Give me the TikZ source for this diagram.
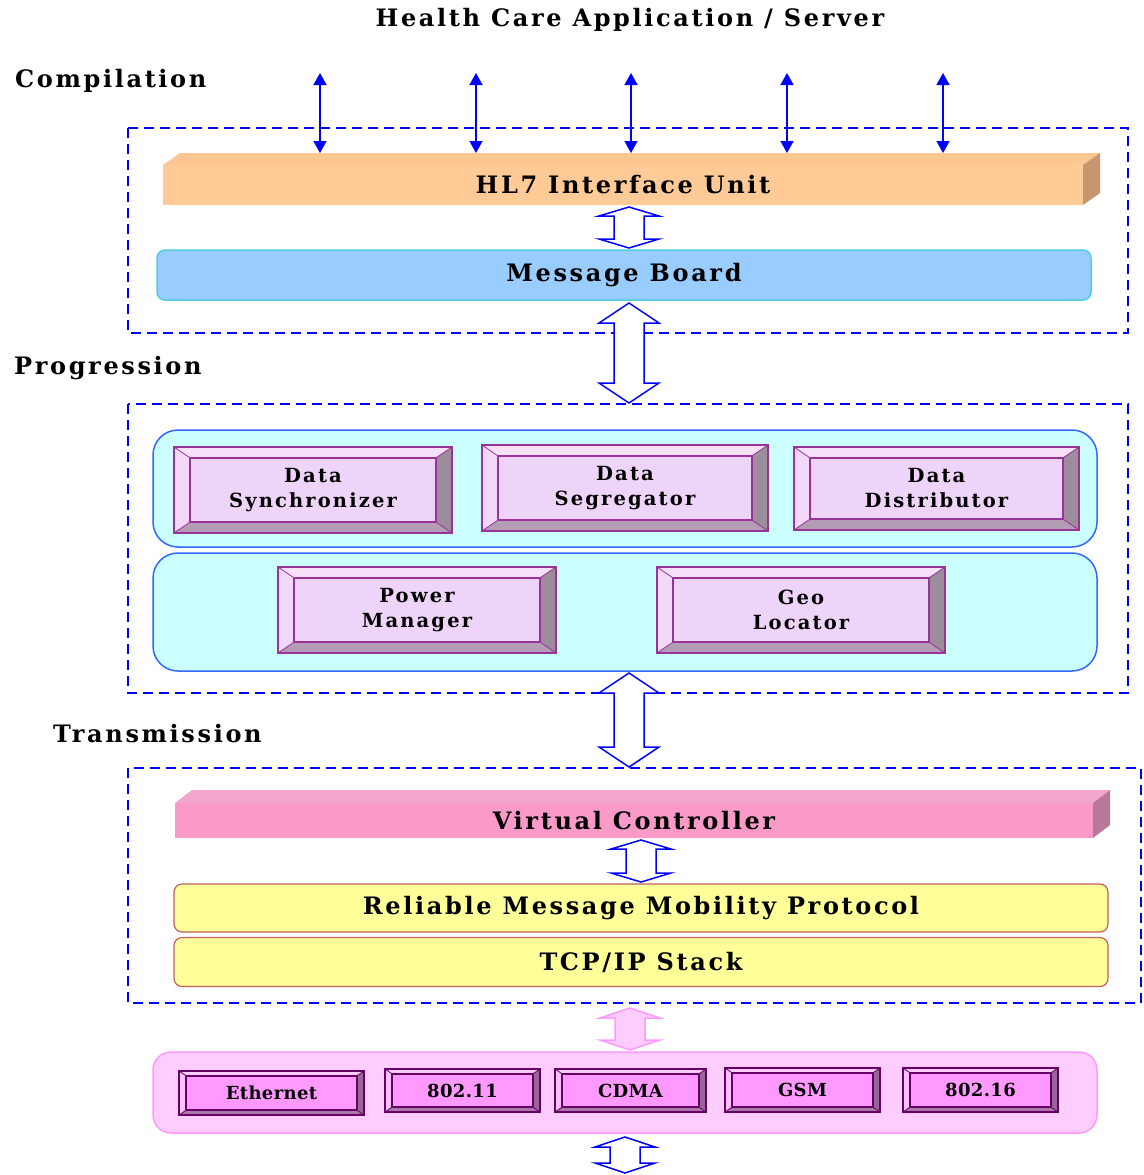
\documentclass[tikz,border=0pt]{standalone}
\usepackage{fontspec}
\setmainfont{DejaVu Serif}
\newfontfamily\lblfont[LetterSpace=11]{DejaVu Serif}
\newfontfamily\smfont[LetterSpace=2]{DejaVu Serif}
\usetikzlibrary{arrows.meta}
\definecolor{dashblue}{HTML}{0000FF}
\definecolor{hlfront}{HTML}{FFCA96}
\definecolor{hltop}{HTML}{FAC692}
\definecolor{hlside}{HTML}{C8966E}
\definecolor{mbfill}{HTML}{99CCFF}
\definecolor{mbline}{HTML}{55CCDD}
\definecolor{panelfill}{HTML}{CCFFFF}
\definecolor{panelline}{HTML}{3366FF}
\definecolor{bvface}{HTML}{EED4F8}
\definecolor{bvtop}{HTML}{F6E0FA}
\definecolor{bvleft}{HTML}{F2D8F6}
\definecolor{bvright}{HTML}{9C8C9C}
\definecolor{bvbottom}{HTML}{B49CB4}
\definecolor{bvline}{HTML}{993399}
\definecolor{vcfront}{HTML}{F99AC8}
\definecolor{vctop}{HTML}{F2A6CE}
\definecolor{vcside}{HTML}{B87898}
\definecolor{yfill}{HTML}{FFFF99}
\definecolor{yline}{HTML}{C06060}
\definecolor{pkfill}{HTML}{FFCCFF}
\definecolor{pkline}{HTML}{FF99FF}
\definecolor{smface}{HTML}{FF99FF}
\definecolor{smtop}{HTML}{FFCCFF}
\definecolor{smleft}{HTML}{FFC0FF}
\definecolor{smright}{HTML}{996699}
\definecolor{smbottom}{HTML}{AA77AA}
\definecolor{smline}{HTML}{660066}
% bevelled box: name, x1, y1, x2, y2, d, colour prefix, font, text
\newcommand\bevelbox[9]{%
  \fill[#7top] (#2,#3) -- (#4,#3) -- ({#4-#6},{#3+0.68*#6}) -- ({#2+#6},{#3+0.68*#6}) -- cycle;
  \fill[#7left] (#2,#3) -- ({#2+#6},{#3+0.68*#6}) -- ({#2+#6},{#5-0.68*#6}) -- (#2,#5) -- cycle;
  \fill[#7right] (#4,#3) -- (#4,#5) -- ({#4-#6},{#5-0.68*#6}) -- ({#4-#6},{#3+0.68*#6}) -- cycle;
  \fill[#7bottom] (#2,#5) -- (#4,#5) -- ({#4-#6},{#5-0.68*#6}) -- ({#2+#6},{#5-0.68*#6}) -- cycle;
  \fill[#7face] ({#2+#6},{#3+0.68*#6}) rectangle ({#4-#6},{#5-0.68*#6});
  \draw[#7line, line width=0.8pt] (#2,#3) -- ({#2+#6},{#3+0.68*#6}) (#4,#3) -- ({#4-#6},{#3+0.68*#6})
     (#2,#5) -- ({#2+#6},{#5-0.68*#6}) (#4,#5) -- ({#4-#6},{#5-0.68*#6});
  \draw[#7line, line width=1.8pt] ({#2+#6},{#3+0.68*#6}) rectangle ({#4-#6},{#5-0.68*#6});
  \node[draw=#7line, line width=1.8pt, inner sep=0pt, minimum width={(#4-#2)*1pt}, minimum height={(#5-#3)*1pt},
        align=center, font=#8] (#1) at ({(#2+#4)/2},{(#3+#5)/2}) {#9};
}
% 3-D bar: name, x1, y1, x2, y2, dx, dy, colour prefix, text
\newcommand\barthree[9]{%
  \fill[#8top] (#2,#3) -- ({#2+#6},{#3-#7}) -- ({#4+#6},{#3-#7}) -- (#4,#3) -- cycle;
  \fill[#8side] (#4,#3) -- ({#4+#6},{#3-#7}) -- ({#4+#6},{#5-#7}) -- (#4,#5) -- cycle;
  \node[fill=#8front, inner sep=0pt, minimum width={(#4-#2)*1pt}, minimum height={(#5-#3)*1pt},
        font=\lblfont\bfseries\fontsize{24}{26}\selectfont] (#1) at ({(#2+#4)/2},{(#3+#5)/2}) {#9};
}
% hollow double arrow: x, y top, y bottom, head length, draw colour, fill colour
\newcommand\hdarrow[6]{%
  \filldraw[draw=#5, fill=#6, line width=1.5pt, line join=miter]
    (#1,#2) -- ({#1+30},{#2+#4}) -- ({#1+15},{#2+#4}) -- ({#1+15},{#3-#4}) -- ({#1+30},{#3-#4})
    -- (#1,#3) -- ({#1-30},{#3-#4}) -- ({#1-15},{#3-#4}) -- ({#1-15},{#2+#4}) -- ({#1-30},{#2+#4}) -- cycle;
}
\begin{document}
\begin{tikzpicture}[x=1pt,y=-1pt,
  dashbox/.style={draw=dashblue, line width=2pt, dash pattern=on 10pt off 6pt},
  biglbl/.style={font=\lblfont\bfseries\fontsize{24}{26}\selectfont, inner sep=0pt},
  thinarr/.style={draw=dashblue, line width=1.5pt, {Triangle[width=13pt,length=12pt]}-{Triangle[width=13pt,length=12pt]}},
  panel/.style={draw=panelline, line width=1.5pt, fill=panelfill, rounded corners=25pt},
  ybar/.style={draw=yline, line width=1.2pt, fill=yfill, rounded corners=8pt, inner sep=0pt,
     font=\lblfont\bfseries\fontsize{24}{26}\selectfont}]
\useasboundingbox (0,0) rectangle (1143,1175);
\fill[white] (0,0) rectangle (1143,1175);

% titles
\node[biglbl] (title) at (630,20) {Health Care Application / Server};
\node[biglbl, anchor=west] (comp) at (15,81) {Compilation};
\node[biglbl, anchor=west] (prog) at (14,368) {Progression};
\node[biglbl, anchor=west] (trans) at (53,734) {Transmission};

% dashed layers
\draw[dashbox] (128,128) rectangle (1128,333);
\draw[dashbox] (128,404) rectangle (1128,693);
\draw[dashbox] (128,768) rectangle (1141,1003);

% Compilation layer
\barthree{hl7}{163}{165}{1083}{205}{17}{12}{hl}{HL7 Interface Unit}
\coordinate (hltopedge) at (600,153);
\foreach \x [count=\i] in {320,476,631,787,943}{
  \coordinate (src\i) at (\x,73);
  \draw[thinarr] (src\i) -- (src\i |- hltopedge);
}
\node[draw=mbline, line width=1.5pt, fill=mbfill, rounded corners=8pt, inner sep=0pt,
      minimum width=934pt, minimum height=50pt, font=\lblfont\bfseries\fontsize{24}{26}\selectfont]
      (mb) at (624,275) {Message Board};
\hdarrow{629}{207}{248}{9}{dashblue}{white}
\hdarrow{629}{303}{403}{20}{dashblue}{white}

% Progression layer
\draw[panel] (153,430) rectangle (1097,547);
\draw[panel] (153,553) rectangle (1097,671);
\bevelbox{dsync}{174}{447}{452}{533}{16}{bv}{\lblfont\bfseries\fontsize{19.5}{25}\selectfont}{Data\\Synchronizer}
\bevelbox{dseg}{482}{445}{768}{531}{16}{bv}{\lblfont\bfseries\fontsize{19.5}{25}\selectfont}{Data\\Segregator}
\bevelbox{ddist}{794}{447}{1079}{530}{16}{bv}{\lblfont\bfseries\fontsize{19.5}{25}\selectfont}{Data\\Distributor}
\bevelbox{power}{278}{567}{556}{653}{16}{bv}{\lblfont\bfseries\fontsize{19.5}{25}\selectfont}{Power\\Manager}
\bevelbox{geo}{657}{567}{945}{653}{16}{bv}{\lblfont\bfseries\fontsize{19.5}{25}\selectfont}{Geo\\Locator}
\hdarrow{629}{673}{767}{20}{dashblue}{white}

% Transmission layer
\barthree{vc}{175}{803}{1093}{838}{17}{13}{vc}{Virtual Controller}
\hdarrow{641}{840}{882}{9}{dashblue}{white}
\node[ybar, minimum width=934pt, minimum height=48pt] (rmmp) at (641,908) {Reliable Message Mobility Protocol};
\node[ybar, minimum width=934pt, minimum height=49pt] (tcp) at (641,962) {TCP/IP Stack};

% physical layer
\hdarrow{630}{1008}{1050}{10}{pkline}{pkfill}
\draw[draw=pkline, line width=1.5pt, fill=pkfill, rounded corners=18pt] (153,1052) rectangle (1097,1133);
\bevelbox{eth}{179}{1071}{364}{1115}{7}{sm}{\smfont\bfseries\fontsize{18}{20}\selectfont}{Ethernet}
\bevelbox{w11}{385}{1069}{540}{1112}{7}{sm}{\smfont\bfseries\fontsize{18}{20}\selectfont}{802.11}
\bevelbox{cdma}{555}{1069}{706}{1112}{7}{sm}{\smfont\bfseries\fontsize{18}{20}\selectfont}{CDMA}
\bevelbox{gsm}{725}{1068}{880}{1112}{7}{sm}{\smfont\bfseries\fontsize{18}{20}\selectfont}{GSM}
\bevelbox{w16}{903}{1068}{1058}{1112}{7}{sm}{\smfont\bfseries\fontsize{18}{20}\selectfont}{802.16}
\hdarrow{625}{1137}{1173}{10}{dashblue}{white}
\end{tikzpicture}
\end{document}
